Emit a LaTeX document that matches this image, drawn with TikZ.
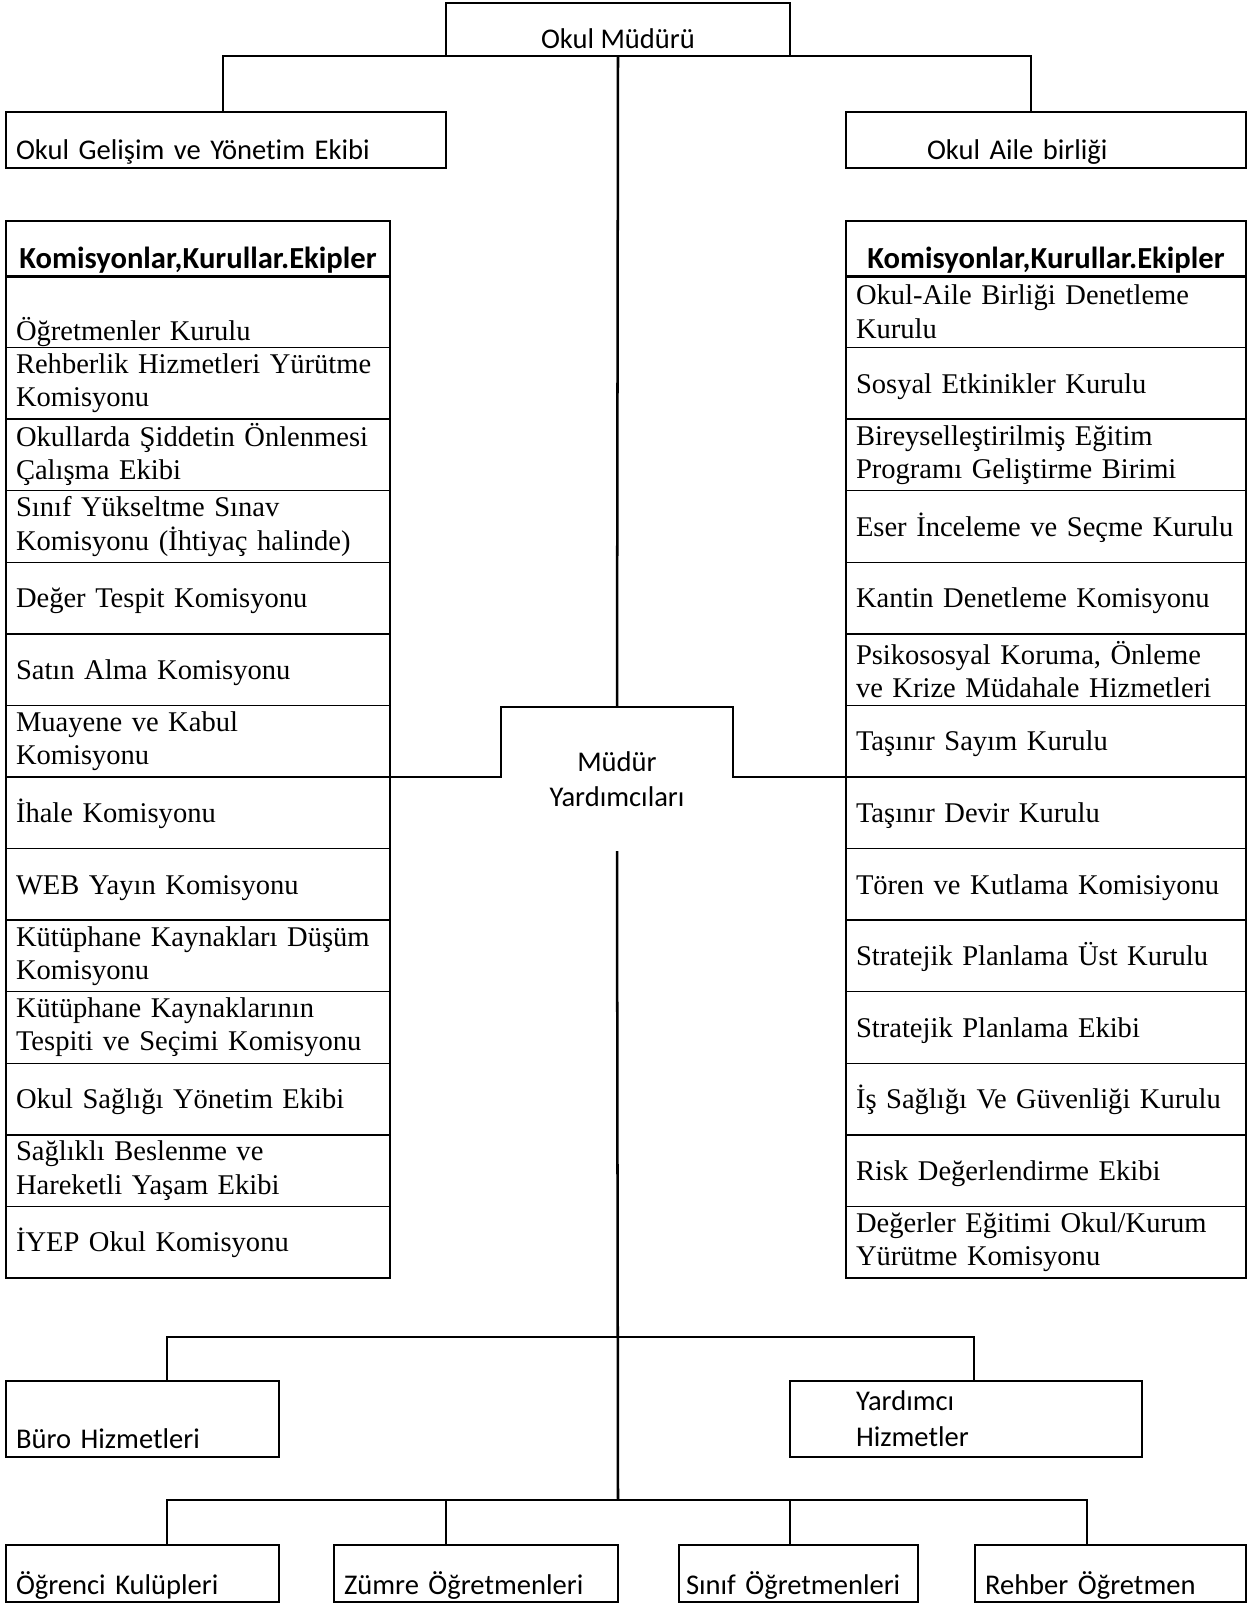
\documentclass[tikz,border=0pt]{standalone}
\usepackage{fontspec}
\setmainfont{Liberation Serif}
\newfontfamily\calfont[Ligatures=NoCommon]{Carlito}
\newcommand\rowfont{\fontsize{13.62}{15.8}\selectfont}
\newcommand\calf{\calfont\fontsize{13.62}{17.1}\selectfont}
\begin{document}
\begin{tikzpicture}[x=0.477pt,y=-0.477pt,
  bx/.style={draw, line width=1.2pt, inner sep=0pt, outer sep=0pt, font=\calf},
  hd/.style={draw, line width=1.4pt, anchor=north west, minimum width=183.17pt, minimum height=26.71pt, inner sep=0pt, outer sep=0pt, text height=22.3pt, text depth=3.5pt, font=\calfont\fontsize{14.6}{17}\selectfont\bfseries},
  rowL/.style={draw, line width=0.7pt, anchor=north west, inner xsep=4.77pt, inner ysep=0pt, outer sep=0pt, text width=173.63pt, minimum height=34.14pt, align=left, font=\rowfont},
  rowR/.style={rowL, text width=181.26pt},
  one/.style={text height=12.75pt, text depth=3.5pt},
  bt/.style={anchor=north west, inner xsep=4.77pt, minimum height=27.19pt, text height=23.6pt, text depth=3.5pt, align=left},
  conn/.style={line width=1.2pt}
]
\useasboundingbox (0,0) rectangle (1248,1603);

% top level
\node[bx, anchor=north west, minimum width=164.09pt, minimum height=25.28pt, text height=21.7pt, text depth=3.5pt] (mudur) at (446,3) {Okul Müdürü};
\node[bx, anchor=north west, text width=200.34pt, inner xsep=4.77pt, minimum height=26.71pt, text height=22.3pt, text depth=3.5pt, align=left] (gel) at (6,112) {Okul Gelişim ve Yönetim Ekibi};
\node[bx, anchor=north west, text width=113.5pt, inner xsep=38.64pt, minimum height=26.71pt, text height=22.3pt, text depth=3.5pt, align=left] (aile) at (846,112) {Okul Aile birliği};

% left rows
\node[rowL, one, text height=30.6pt] (L0) at (6,276.0) {Öğretmenler Kurulu};
\node[rowL] (L1) at (6,347.6) {\mbox{Rehberlik Hizmetleri Yürütme}\\Komisyonu};
\node[rowL] (L2) at (6,419.1) {\mbox{Okullarda Şiddetin Önlenmesi}\\Çalışma Ekibi};
\node[rowL] (L3) at (6,490.7) {\mbox{Sınıf Yükseltme Sınav}\\\mbox{Komisyonu (İhtiyaç halinde)}};
\node[rowL, one] (L4) at (6,562.3) {\mbox{Değer Tespit Komisyonu}};
\node[rowL, one] (L5) at (6,633.9) {\mbox{Satın Alma Komisyonu}};
\node[rowL] (L6) at (6,705.4) {\mbox{Muayene ve Kabul}\\Komisyonu};
\node[rowL, one] (L7) at (6,777.0) {\mbox{İhale Komisyonu}};
\node[rowL, one] (L8) at (6,848.6) {\mbox{WEB Yayın Komisyonu}};
\node[rowL] (L9) at (6,920.1) {\mbox{Kütüphane Kaynakları Düşüm}\\Komisyonu};
\node[rowL] (L10) at (6,991.7) {\mbox{Kütüphane Kaynaklarının}\\\mbox{Tespiti ve Seçimi Komisyonu}};
\node[rowL, one] (L11) at (6,1063.3) {\mbox{Okul Sağlığı Yönetim Ekibi}};
\node[rowL] (L12) at (6,1134.8) {\mbox{Sağlıklı Beslenme ve}\\\mbox{Hareketli Yaşam Ekibi}};
\node[rowL, one] (L13) at (6,1206.4) {\mbox{İYEP Okul Komisyonu}};

% right rows
\node[rowR] (R0) at (846,276.0) {\mbox{Okul-Aile Birliği Denetleme}\\Kurulu};
\node[rowR, one] (R1) at (846,347.6) {\mbox{Sosyal Etkinikler Kurulu}};
\node[rowR] (R2) at (846,419.1) {\mbox{Bireyselleştirilmiş Eğitim}\\\mbox{Programı Geliştirme Birimi}};
\node[rowR, one] (R3) at (846,490.7) {\mbox{Eser İnceleme ve Seçme Kurulu}};
\node[rowR, one] (R4) at (846,562.3) {\mbox{Kantin Denetleme Komisyonu}};
\node[rowR] (R5) at (846,633.9) {\mbox{Psikososyal Koruma, Önleme}\\\mbox{ve Krize Müdahale Hizmetleri}};
\node[rowR, one] (R6) at (846,705.4) {\mbox{Taşınır Sayım Kurulu}};
\node[rowR, one] (R7) at (846,777.0) {\mbox{Taşınır Devir Kurulu}};
\node[rowR, one] (R8) at (846,848.6) {\mbox{Tören ve Kutlama Komisiyonu}};
\node[rowR, one] (R9) at (846,920.1) {\mbox{Stratejik Planlama Üst Kurulu}};
\node[rowR, one] (R10) at (846,991.7) {\mbox{Stratejik Planlama Ekibi}};
\node[rowR, one] (R11) at (846,1063.3) {\mbox{İş Sağlığı Ve Güvenliği Kurulu}};
\node[rowR, one] (R12) at (846,1134.8) {\mbox{Risk Değerlendirme Ekibi}};
\node[rowR] (R13) at (846,1206.4) {\mbox{Değerler Eğitimi Okul/Kurum}\\\mbox{Yürütme Komisyonu}};

% headers
\node[hd] (hL) at (6,221) {Komisyonlar,Kurullar.Ekipler};
\node[hd, minimum width=190.8pt] (hR) at (846,221) {Komisyonlar,Kurullar.Ekipler};

% Müdür Yardımcıları
\node[minimum width=110.66pt, minimum height=68.69pt, inner sep=0pt, outer sep=0pt, align=center, font=\calfont\fontsize{13.62}{16.5}\selectfont] (myard) at (617,779) {Müdür\\Yardımcıları};

% lower boxes
\node[bx, anchor=north west, text width=120.68pt, inner xsep=4.77pt, minimum height=36.25pt, text height=31.8pt, text depth=3.5pt, align=left] (buro) at (6,1381) {Büro Hizmetleri};
\node[bx, anchor=north west, text width=104.94pt, inner xsep=31.48pt, minimum height=36.25pt, align=left] (yard) at (790,1381) {Yardımcı\\Hizmetler};

\node[bx, bt, text width=120.68pt] (ogr) at (6,1545) {\mbox{Öğrenci Kulüpleri}};
\node[bx, bt, text width=125.93pt] (zum) at (334,1545) {\mbox{Zümre Öğretmenleri}};
\node[bx, bt, text width=107.33pt, inner xsep=3.34pt] (sin) at (679,1545) {\mbox{Sınıf Öğretmenleri}};
\node[bx, bt, text width=119.73pt] (reh) at (975,1545) {\mbox{Rehber Öğretmen}};

% connectors
\coordinate (busA) at (618,1337);
\coordinate (busB) at (618,1500);
\draw[conn] (223,0 |- gel.north) |- (mudur.south) -| (1031,0 |- aile.north);
\draw[conn] (mudur.south) -- (myard.north);
\draw[conn] (L6.south east) -- (myard.west |- L6.south east) -- (myard.north west) -- (myard.north east) -- (myard.east |- R6.south west) -- (R6.south west);
\draw[conn] (myard.south) -- (busB);
\draw[conn] (167,0 |- buro.north) |- (busA) -| (974,0 |- yard.north);
\draw[conn] (167,0 |- ogr.north) |- (busB) -| (1087,0 |- reh.north);
\draw[conn] (446,0 |- zum.north) -- (446,0 |- busB);
\draw[conn] (790,0 |- sin.north) -- (790,0 |- busB);
\end{tikzpicture}
\end{document}
